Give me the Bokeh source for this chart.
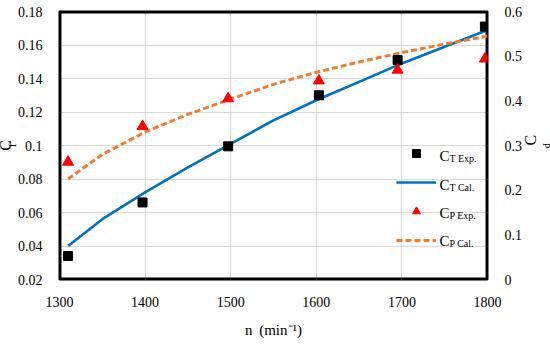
import math
from bokeh.plotting import figure
from bokeh.models import Range1d, LinearAxis, Label, Legend, LegendItem, FixedTicker, Title
from bokeh.embed import file_html
from bokeh.resources import INLINE

# data
n_exp = [1310, 1397, 1497, 1603, 1695, 1797]
ct_exp = [0.034, 0.066, 0.0995, 0.130, 0.151, 0.171]
cp_exp = [0.263, 0.343, 0.405, 0.445, 0.469, 0.494]

n_cal = [1310, 1350, 1400, 1450, 1500, 1550, 1600, 1650, 1700, 1750, 1800]
ct_cal = [0.040, 0.056, 0.072, 0.087, 0.101, 0.115, 0.127, 0.138, 0.149, 0.159, 0.169]
cp_cal = [0.225, 0.280, 0.330, 0.370, 0.404, 0.437, 0.464, 0.487, 0.508, 0.527, 0.545]

x_ticks = [1300, 1400, 1500, 1600, 1700, 1800]
ct_ticks = [0.02, 0.04, 0.06, 0.08, 0.1, 0.12, 0.14, 0.16, 0.18]
cp_ticks = [0, 0.1, 0.2, 0.3, 0.4, 0.5, 0.6]
x_bounds = [1300, 1800]
ct_bounds = [0.02, 0.18]
cp_bounds = [0, 0.6]

FONT = "Liberation Serif"
BLUE = "#0070C0"
ORANGE = "#ED7D31"
FRAME_W, FRAME_H = 439, 271

p = figure(width=550, height=340, output_backend="svg", toolbar_location=None,
           x_range=Range1d(*x_bounds), y_range=Range1d(*ct_bounds),
           min_border_left=57, min_border_right=54, min_border_top=11, min_border_bottom=58)
p.extra_y_ranges = {"cp": Range1d(*cp_bounds)}

p.outline_line_color = "black"
p.outline_line_width = 2
p.background_fill_color = "white"
p.border_fill_color = "white"

def style(ax):
    ax.axis_line_color = None
    ax.major_tick_line_color = None
    ax.minor_tick_line_color = None
    ax.major_label_text_font = FONT
    ax.major_label_text_font_size = "14px"
    ax.major_label_text_color = "black"

style(p.xaxis[0])
style(p.yaxis[0])
p.xaxis[0].ticker = FixedTicker(ticks=x_ticks)
p.yaxis[0].ticker = FixedTicker(ticks=ct_ticks)
p.yaxis[0].major_label_overrides = {0.1: "0.1"}
p.xaxis[0].major_label_standoff = 11
p.yaxis[0].major_label_standoff = 11
p.xaxis[0].axis_label = "n\u2009\u00a0(min\u207b\u00b9)"
p.xaxis[0].axis_label_text_font = FONT
p.xaxis[0].axis_label_text_font_size = "15px"
p.xaxis[0].axis_label_text_font_style = "normal"
p.xaxis[0].axis_label_text_color = "black"
p.xaxis[0].axis_label_standoff = 12

rax = LinearAxis(y_range_name="cp", ticker=FixedTicker(ticks=cp_ticks))
style(rax)
rax.major_label_standoff = 11
rax.major_label_overrides = {0: "0"}
rax.axis_label = "C"
rax.axis_label_text_font = FONT
rax.axis_label_text_font_size = "16px"
rax.axis_label_text_font_style = "normal"
rax.axis_label_text_color = "black"
rax.axis_label_standoff = 5
if "axis_label_orientation" in rax.properties():
    rax.axis_label_orientation = math.pi / 2
p.add_layout(rax, "right")

p.xgrid.ticker = FixedTicker(ticks=x_ticks)
p.ygrid.ticker = FixedTicker(ticks=ct_ticks)
p.xgrid.grid_line_color = "#d9d9d9"
p.ygrid.grid_line_color = "#d9d9d9"
p.xgrid.grid_line_width = 1.2
p.ygrid.grid_line_width = 1.2

# plot-area border, drawn just inside the axis ranges (1 px inset)
ix = (x_bounds[1] - x_bounds[0]) / FRAME_W * 1.0
iy = (ct_bounds[1] - ct_bounds[0]) / FRAME_H * 1.0
bx0, bx1 = x_bounds[0] + ix, x_bounds[1] - ix
by0, by1 = ct_bounds[0] + iy, ct_bounds[1] - iy
p.line([bx0, bx1, bx1, bx0, bx0], [by0, by0, by1, by1, by0],
       line_color="black", line_width=2)

l_ct = p.line(n_cal, ct_cal, line_color=BLUE, line_width=2.6)
l_cp = p.line(n_cal, cp_cal, line_color=ORANGE, line_width=3, line_dash="6 3", y_range_name="cp")
s_ct = p.scatter(n_exp, ct_exp, marker="square", size=9, fill_color="black", line_color="black")
s_cp = p.scatter(n_exp, cp_exp, marker="triangle", size=11, fill_color="red", line_color="red", y_range_name="cp")

legend = Legend(items=[LegendItem(label=" ", renderers=[s_ct]),
                       LegendItem(label=" ", renderers=[l_ct]),
                       LegendItem(label=" ", renderers=[s_cp]),
                       LegendItem(label=" ", renderers=[l_cp])],
                location=(337, 29), glyph_width=40, glyph_height=20, spacing=9,
                padding=0, margin=0, label_standoff=0, label_width=1, label_height=20,
                label_text_font_size="2px",
                border_line_color=None, background_fill_alpha=0)
p.add_layout(legend, "center")

rows = [(124, "T Exp."), (95, "T Cal."), (67, "P Exp."), (39, "P Cal.")]
for y, sub in rows:
    p.add_layout(Label(x=380, y=y, x_units="screen", y_units="screen", text="C",
                       text_font=FONT, text_font_size="15px", text_baseline="middle",
                       text_align="left", text_color="black"))
    p.add_layout(Label(x=390, y=y - 3, x_units="screen", y_units="screen", text=sub,
                       text_font=FONT, text_font_size="10px", text_baseline="middle",
                       text_align="left", text_color="black"))

def side_title(text, size, offset, standoff):
    return Title(text=text, align="center", offset=offset, standoff=standoff,
                 text_font=FONT, text_font_size=size, text_font_style="normal", text_color="black")

p.add_layout(side_title("T", "10px", -9, -6), "left")
p.add_layout(side_title("C", "16px", 0, -12), "left")
p.add_layout(side_title("P", "10px", 4, -20), "right")

open("out.html", "w").write(file_html(p, INLINE))
